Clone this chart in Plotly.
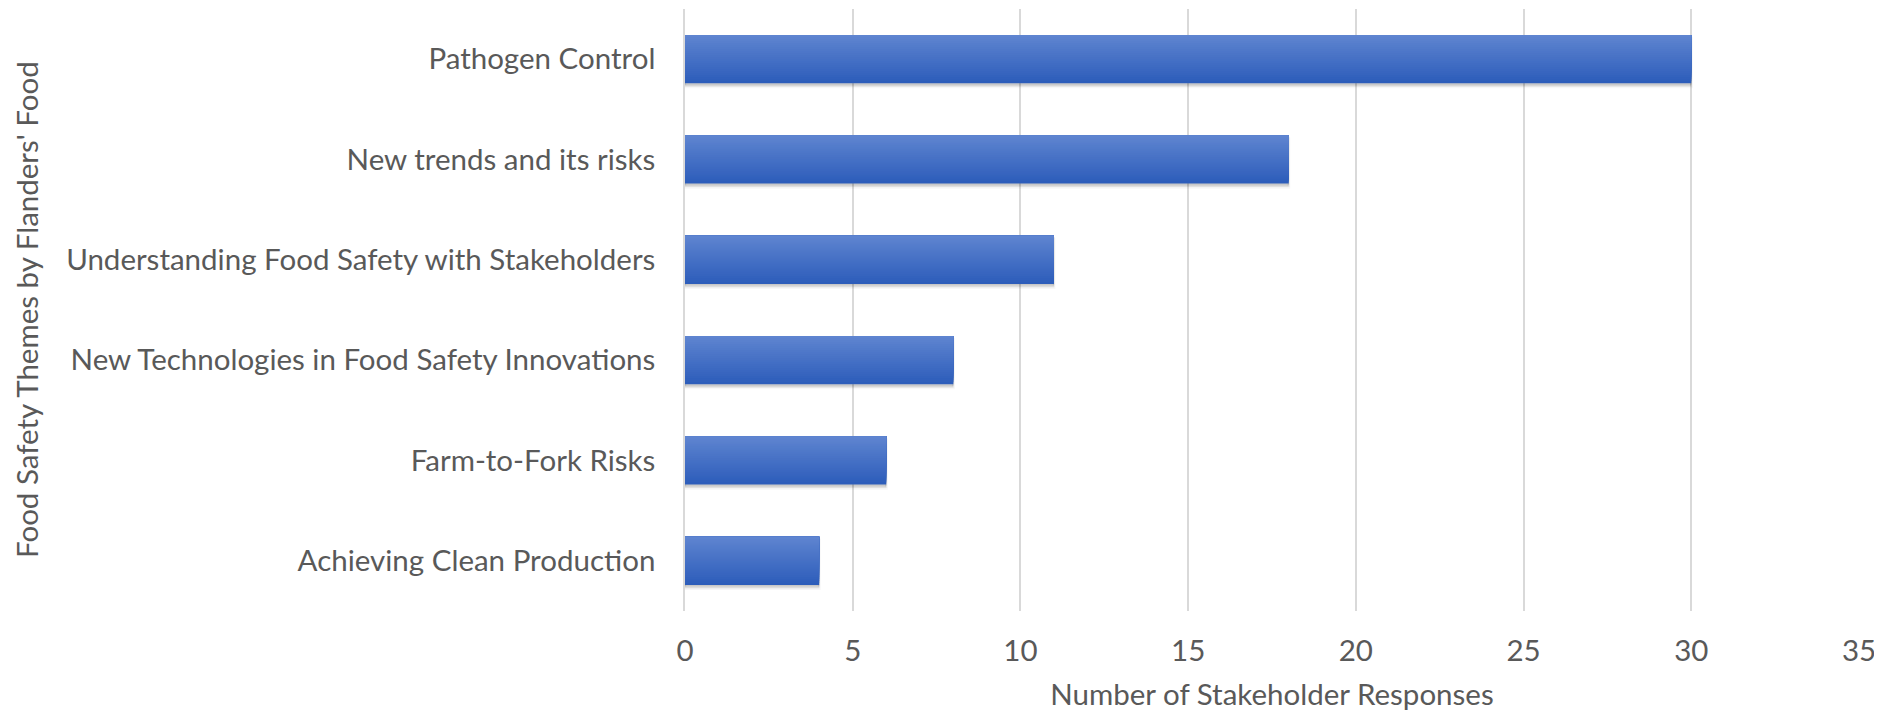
import plotly.graph_objects as go

categories = [
    "Achieving Clean Production",
    "Farm-to-Fork Risks",
    "New Technologies in Food Safety Innovations",
    "Understanding Food Safety with Stakeholders",
    "New trends and its risks",
    "Pathogen Control",
]
responses = [4, 6, 8, 11, 18, 30]
x_ticks = [0, 5, 10, 15, 20, 25, 30, 35]
y_title = "Food Safety Themes by Flanders' Food"
x_title = "Number of Stakeholder Responses"

FONT = "Lato"
FS = 29.5
TXT = "#595959"
BAR_W = 0.48
N = 24
top_rgb = (94, 132, 208)
bot_rgb = (45, 93, 186)

fig = go.Figure()

# soft shadow
for k, a in enumerate([0.05, 0.07, 0.09]):
    fig.add_trace(go.Bar(
        y=categories, x=responses, orientation="h",
        width=BAR_W, offset=-BAR_W / 2 - 0.012 * (3 - k),
        marker=dict(color="rgba(0,0,0,%.2f)" % a,
                    line=dict(color="rgba(0,0,0,%.2f)" % (a * 0.6), width=3 - k)),
        hoverinfo="skip", showlegend=False,
    ))

# gradient: each strip spans from its start up to the bar top, drawn bottom-first
for i in range(N):
    t = i / (N - 1)
    c = tuple(round(bot_rgb[k] + (top_rgb[k] - bot_rgb[k]) * t) for k in range(3))
    start = -BAR_W / 2 + i * BAR_W / N
    fig.add_trace(go.Bar(
        y=categories, x=responses, orientation="h",
        width=BAR_W / 2 - start, offset=start,
        marker=dict(color="rgb(%d,%d,%d)" % c, line=dict(width=0)),
        showlegend=False, hoverinfo="skip" if i else None,
    ))

fig.add_annotation(
    text=y_title, textangle=-90, showarrow=False,
    xref="paper", yref="paper", x=0, y=0.5,
    xanchor="center", yanchor="middle", xshift=-659,
    font=dict(family=FONT, size=FS, color=TXT),
)

fig.update_layout(
    width=1882, height=715,
    margin=dict(l=677, r=31, t=1, b=112, autoexpand=False),
    plot_bgcolor="white", paper_bgcolor="white",
    barmode="overlay",
    font=dict(family=FONT, size=FS, color=TXT),
    xaxis=dict(
        range=[0, 35], tickvals=x_ticks, showgrid=True, automargin=False,
        gridcolor="#D9D9D9", gridwidth=1.5, zeroline=False,
        showline=False, ticks="", ticklabelstandoff=19,
        title=dict(text=x_title, standoff=18,
                   font=dict(family=FONT, size=FS, color=TXT)),
        tickfont=dict(family=FONT, size=FS, color=TXT),
    ),
    yaxis=dict(
        type="category", categoryorder="array", categoryarray=categories,
        range=[-0.5, 5.5], showgrid=False, zeroline=False, automargin=False,
        showline=True, linecolor="#D9D9D9", linewidth=1.5,
        ticks="", ticklabelstandoff=22,
        tickfont=dict(family=FONT, size=FS, color=TXT),
    ),
)

fig.write_html("out.html")
